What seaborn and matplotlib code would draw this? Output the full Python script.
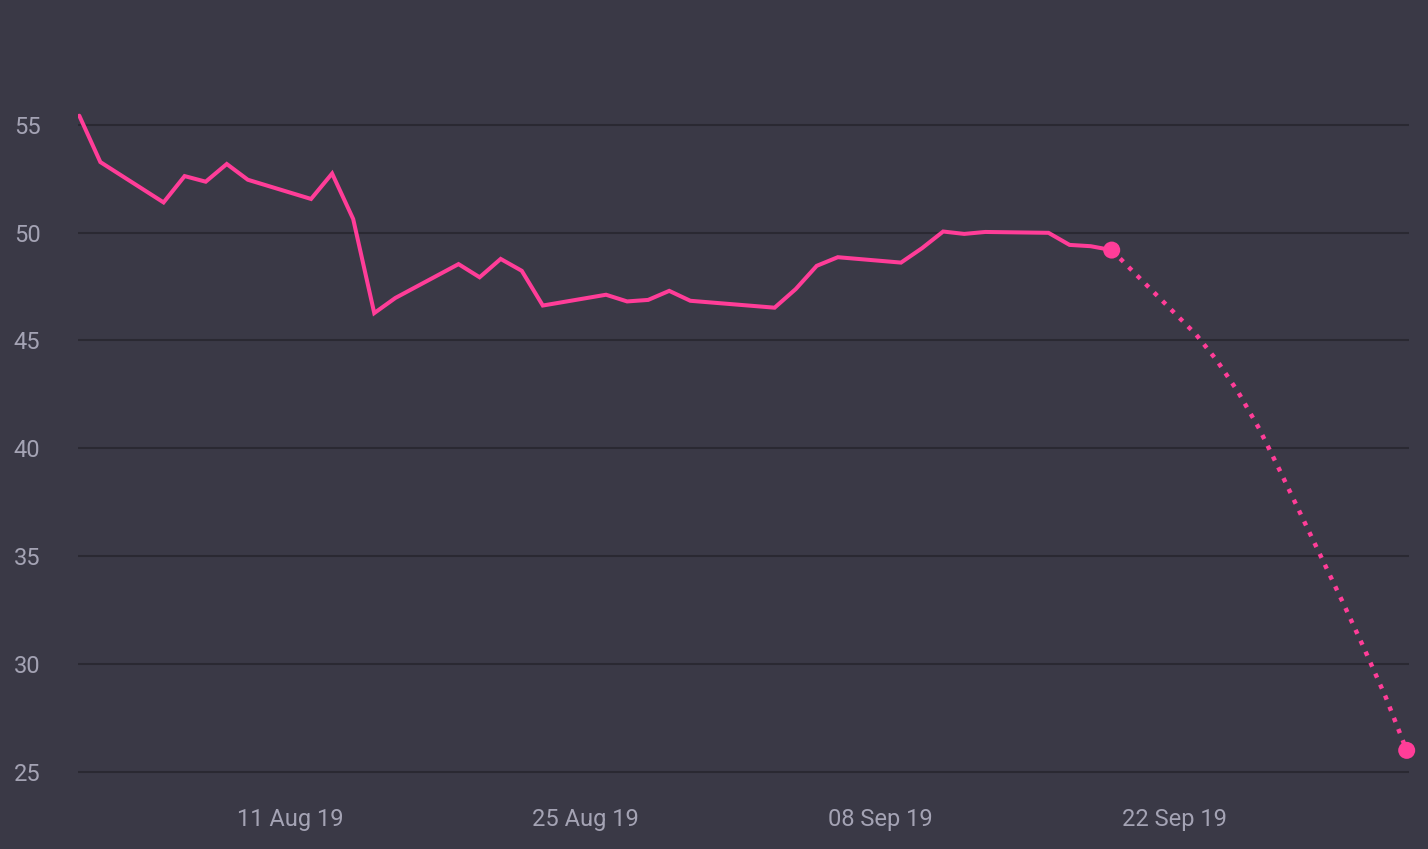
import matplotlib
matplotlib.use("Agg")
import matplotlib.pyplot as plt
import matplotlib.dates as mdates
import pandas as pd
import seaborn as sns

# Valores (dias habiles, sin el 2 de septiembre)
fechas_reales = ["2019-08-01", "2019-08-02", "2019-08-05", "2019-08-06", "2019-08-07",
                 "2019-08-08", "2019-08-09", "2019-08-12", "2019-08-13", "2019-08-14",
                 "2019-08-15", "2019-08-16", "2019-08-19", "2019-08-20", "2019-08-21",
                 "2019-08-22", "2019-08-23", "2019-08-26", "2019-08-27", "2019-08-28",
                 "2019-08-29", "2019-08-30", "2019-09-03", "2019-09-04", "2019-09-05",
                 "2019-09-06", "2019-09-09", "2019-09-10", "2019-09-11", "2019-09-12",
                 "2019-09-13", "2019-09-16", "2019-09-17", "2019-09-18", "2019-09-19"]
valores_reales = [55.42, 53.27, 51.40, 52.62, 52.36, 53.18, 52.45, 51.56, 52.74, 50.63,
                  46.27, 46.97, 48.54, 47.93, 48.78, 48.23, 46.62, 47.12, 46.81, 46.88,
                  47.30, 46.84, 46.52, 47.38, 48.46, 48.86, 48.61, 49.28, 50.05, 49.94,
                  50.03, 49.99, 49.43, 49.37, 49.19]

# Proyeccion (linea punteada)
fechas_proy = ["2019-09-19", "2019-09-20", "2019-09-23", "2019-09-24", "2019-09-25",
               "2019-09-26", "2019-09-27", "2019-09-30", "2019-10-01", "2019-10-02",
               "2019-10-03"]
valores_proy = [49.19, 48.21, 45.28, 44.06, 42.61, 40.91, 38.93, 32.80, 30.68, 28.48, 26.0]

ticks_x = ["2019-08-11", "2019-08-25", "2019-09-08", "2019-09-22"]
ticks_y = [25, 30, 35, 40, 45, 50, 55]

FONDO = "#3a3946"
GRILLA = "#2a2932"
ROSA = "#ff3d98"
TEXTO = "#a4a3b4"

sns.set_theme(style="dark", rc={
    "figure.facecolor": FONDO,
    "axes.facecolor": FONDO,
    "axes.grid": True,
    "grid.color": GRILLA,
    "grid.linewidth": 1.5,
})
plt.rcParams["font.family"] = ["Roboto", "DejaVu Sans"]

df_real = pd.DataFrame({"fecha": pd.to_datetime(fechas_reales), "valor": valores_reales})
df_proy = pd.DataFrame({"fecha": pd.to_datetime(fechas_proy), "valor": valores_proy})
df_puntos = df_proy.iloc[[0, -1]]

fig = plt.figure(figsize=(14.28, 8.49), dpi=100)
ax = fig.add_axes([0.0546, 0.0806, 0.9321, 0.8487])

sns.lineplot(data=df_real, x="fecha", y="valor", ax=ax, color=ROSA, linewidth=2.9,
             solid_joinstyle="miter")
sns.lineplot(data=df_proy, x="fecha", y="valor", ax=ax, color=ROSA, linewidth=3.2,
             linestyle=(0, (1, 1.7)), dash_capstyle="butt")
sns.scatterplot(data=df_puntos, x="fecha", y="valor", ax=ax, color=ROSA, s=150,
                edgecolor="none", zorder=5, clip_on=False)

inicio = pd.Timestamp("2019-08-01")
ax.set_xlim(mdates.date2num(inicio) - 0.062, mdates.date2num(inicio) + 63.11)
ax.set_ylim(24.6, 58)

ax.set_xticks(mdates.date2num(pd.to_datetime(ticks_x)))
ax.xaxis.set_major_formatter(mdates.DateFormatter("%d %b %y"))
ax.set_yticks(ticks_y)
ax.grid(axis="x", visible=False)
ax.grid(axis="y", visible=True, color=GRILLA, linewidth=1.5)

ax.tick_params(axis="x", length=0, pad=20, labelsize=17, labelcolor=TEXTO)
ax.tick_params(axis="y", length=0, pad=27, labelsize=17, labelcolor=TEXTO)
ax.set_xlabel("")
ax.set_ylabel("")
for lado in ax.spines.values():
    lado.set_visible(False)

fig.savefig("out.png", dpi=100, facecolor=FONDO)
